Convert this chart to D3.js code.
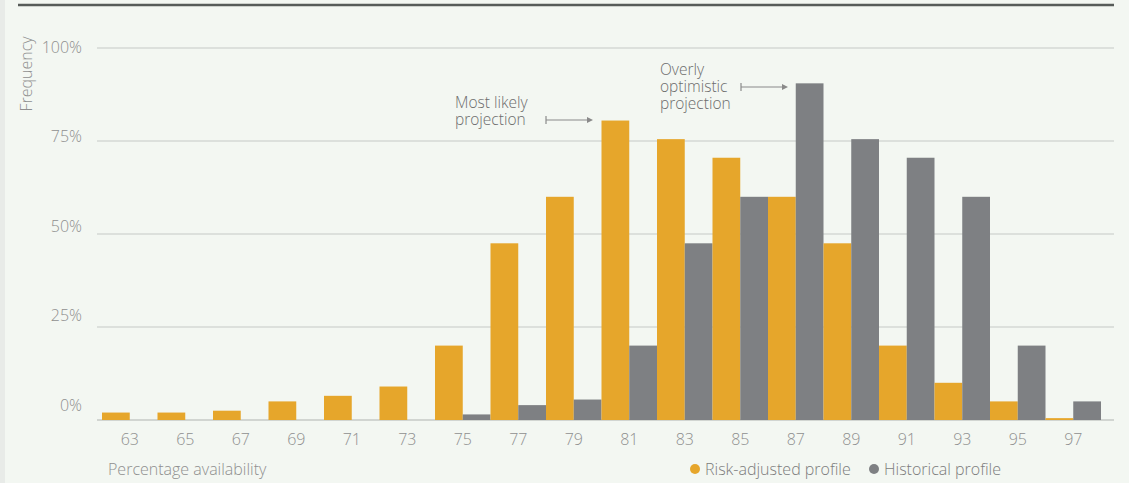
<!DOCTYPE html>
<html>
<head>
<meta charset="utf-8">
<script src="https://cdn.jsdelivr.net/npm/d3@7"></script>
<style>
  body { margin: 0; background: #f3f7f2; }
  svg { display: block; font-family: "Open Sans", "DejaVu Sans", sans-serif; font-weight: 300; }
</style>
</head>
<body>
<div id="viz"></div>
<script>
const width = 1129;
const height = 483;

// percentage availability buckets
const categories = ['63','65','67','69','71','73','75','77','79','81','83','85','87','89','91','93','95','97'];
// frequency (%)
const riskAdjusted = [2, 2, 2.5, 5, 6.5, 9, 20, 47.5, 60, 80.5, 75.5, 70.5, 60, 47.5, 20, 10, 5, 0.5];
const historical = [0, 0, 0, 0, 0, 0, 1.5, 4, 5.5, 20, 47.5, 60, 90.5, 75.5, 70.5, 60, 20, 5];
const seriesNames = ['Risk-adjusted profile', 'Historical profile'];
const seriesColors = ['#e6a62b', '#7e8083'];
const yTicks = [0, 25, 50, 75, 100];

const rows = categories.map((c, i) => ({cat: c, values: [riskAdjusted[i], historical[i]]}));

const svg = d3.select('#viz')
    .append('svg')
        .attr('width', width)
        .attr('height', height);

// thin darker strip on the left edge and the rule on top
svg.append('rect')
    .attr('x', 0).attr('y', 0)
    .attr('width', 5).attr('height', height)
    .attr('fill', '#e8ebe8');
svg.append('line')
    .attr('x1', 18).attr('x2', 1114)
    .attr('y1', 5).attr('y2', 5)
    .attr('stroke', '#575c59')
    .attr('stroke-width', 2.5);

// scales
const x = d3.scaleBand()
    .domain(categories)
    .range([102, 1101])
    .paddingInner(0)
    .paddingOuter(0);
const x1 = d3.scaleBand()
    .domain([0, 1])
    .range([0, x.bandwidth()]);
const y = d3.scaleLinear()
    .domain([0, 100])
    .range([420, 48]);
// tick labels sit a bit off the gridlines in the original
const yLabel = d3.scaleLinear()
    .domain([0, 100])
    .range([405, 47]);

// gridlines
svg.append('g')
    .attr('class', 'grid')
    .selectAll('line')
    .data(yTicks)
    .join('line')
        .attr('x1', 97)
        .attr('x2', 1114)
        .attr('y1', d => y(d))
        .attr('y2', d => y(d))
        .attr('stroke', d => d === 0 ? '#c6cac6' : '#d4d8d4')
        .attr('stroke-width', 1.5);

// y labels
svg.append('g')
    .selectAll('text')
    .data(yTicks)
    .join('text')
        .attr('x', 82)
        .attr('y', d => yLabel(d))
        .attr('dy', '0.35em')
        .attr('text-anchor', 'end')
        .attr('fill', '#8f8f8f')
        .style('font-size', '16px')
        .text(d => d + '%');

svg.append('text')
    .attr('transform', 'translate(32,74) rotate(-90)')
    .attr('text-anchor', 'middle')
    .attr('fill', '#8f8f8f')
    .style('font-size', '16px')
    .text('Frequency');

// bars
const groups = svg.append('g')
    .attr('class', 'bars-group')
    .selectAll('g')
    .data(rows)
    .join('g')
        .attr('transform', d => `translate(${x(d.cat)},0)`);

groups.selectAll('rect')
    .data(d => d.values.map((v, k) => ({k, v})).filter(e => e.v > 0))
    .join('rect')
        .attr('x', d => x1(d.k))
        .attr('y', d => y(d.v))
        .attr('width', x1.bandwidth())
        .attr('height', d => y(0) - y(d.v))
        .attr('fill', d => seriesColors[d.k]);

// x axis labels
const xAxis = d3.axisBottom(x).tickSize(0).tickPadding(0);
const xAxisGroup = svg.append('g')
    .attr('transform', 'translate(0,434)')
    .call(xAxis);
xAxisGroup.select('.domain').remove();
xAxisGroup.selectAll('text')
    .attr('fill', '#8f8f8f')
    .style('font-size', '16px')
    .style('font-family', '"Open Sans", "DejaVu Sans", sans-serif');

svg.append('text')
    .attr('x', 108)
    .attr('y', 469)
    .attr('dy', '0.35em')
    .attr('fill', '#8f8f8f')
    .style('font-size', '16px')
    .text('Percentage availability');

// legend
const legend = svg.append('g').attr('transform', 'translate(0,469)');
const legendX = [695, 874];
seriesNames.forEach((name, k) => {
    legend.append('circle')
        .attr('cx', legendX[k])
        .attr('cy', 0)
        .attr('r', 5)
        .attr('fill', seriesColors[k]);
    legend.append('text')
        .attr('x', legendX[k] + 10)
        .attr('dy', '0.35em')
        .attr('fill', '#7c7c7c')
        .style('font-size', '16px')
        .text(name);
});

// annotations
const annotations = [
    {lines: ['Most likely', 'projection'], x: 455, y: 103, arrowLine: 1, ax0: 546, ax1: 593},
    {lines: ['Overly', 'optimistic', 'projection'], x: 660, y: 70, arrowLine: 1, ax0: 741, ax1: 788}
];
const lineHeight = 17;

annotations.forEach(a => {
    const g = svg.append('g');
    a.lines.forEach((t, i) => {
        g.append('text')
            .attr('x', a.x)
            .attr('y', a.y + i * lineHeight)
            .attr('dy', '0.35em')
            .attr('fill', '#6c6c6c')
            .style('font-size', '15.5px')
            .text(t);
    });
    const ay = a.y + a.arrowLine * lineHeight;
    g.append('line')
        .attr('x1', a.ax0).attr('x2', a.ax1 - 4)
        .attr('y1', ay).attr('y2', ay)
        .attr('stroke', '#8a8a8a')
        .attr('stroke-width', 1.2);
    g.append('line')
        .attr('x1', a.ax0).attr('x2', a.ax0)
        .attr('y1', ay - 4).attr('y2', ay + 4)
        .attr('stroke', '#8a8a8a')
        .attr('stroke-width', 1.2);
    g.append('path')
        .attr('d', `M${a.ax1},${ay} L${a.ax1 - 6},${ay - 3} L${a.ax1 - 6},${ay + 3} Z`)
        .attr('fill', '#8a8a8a');
});
</script>
</body>
</html>
